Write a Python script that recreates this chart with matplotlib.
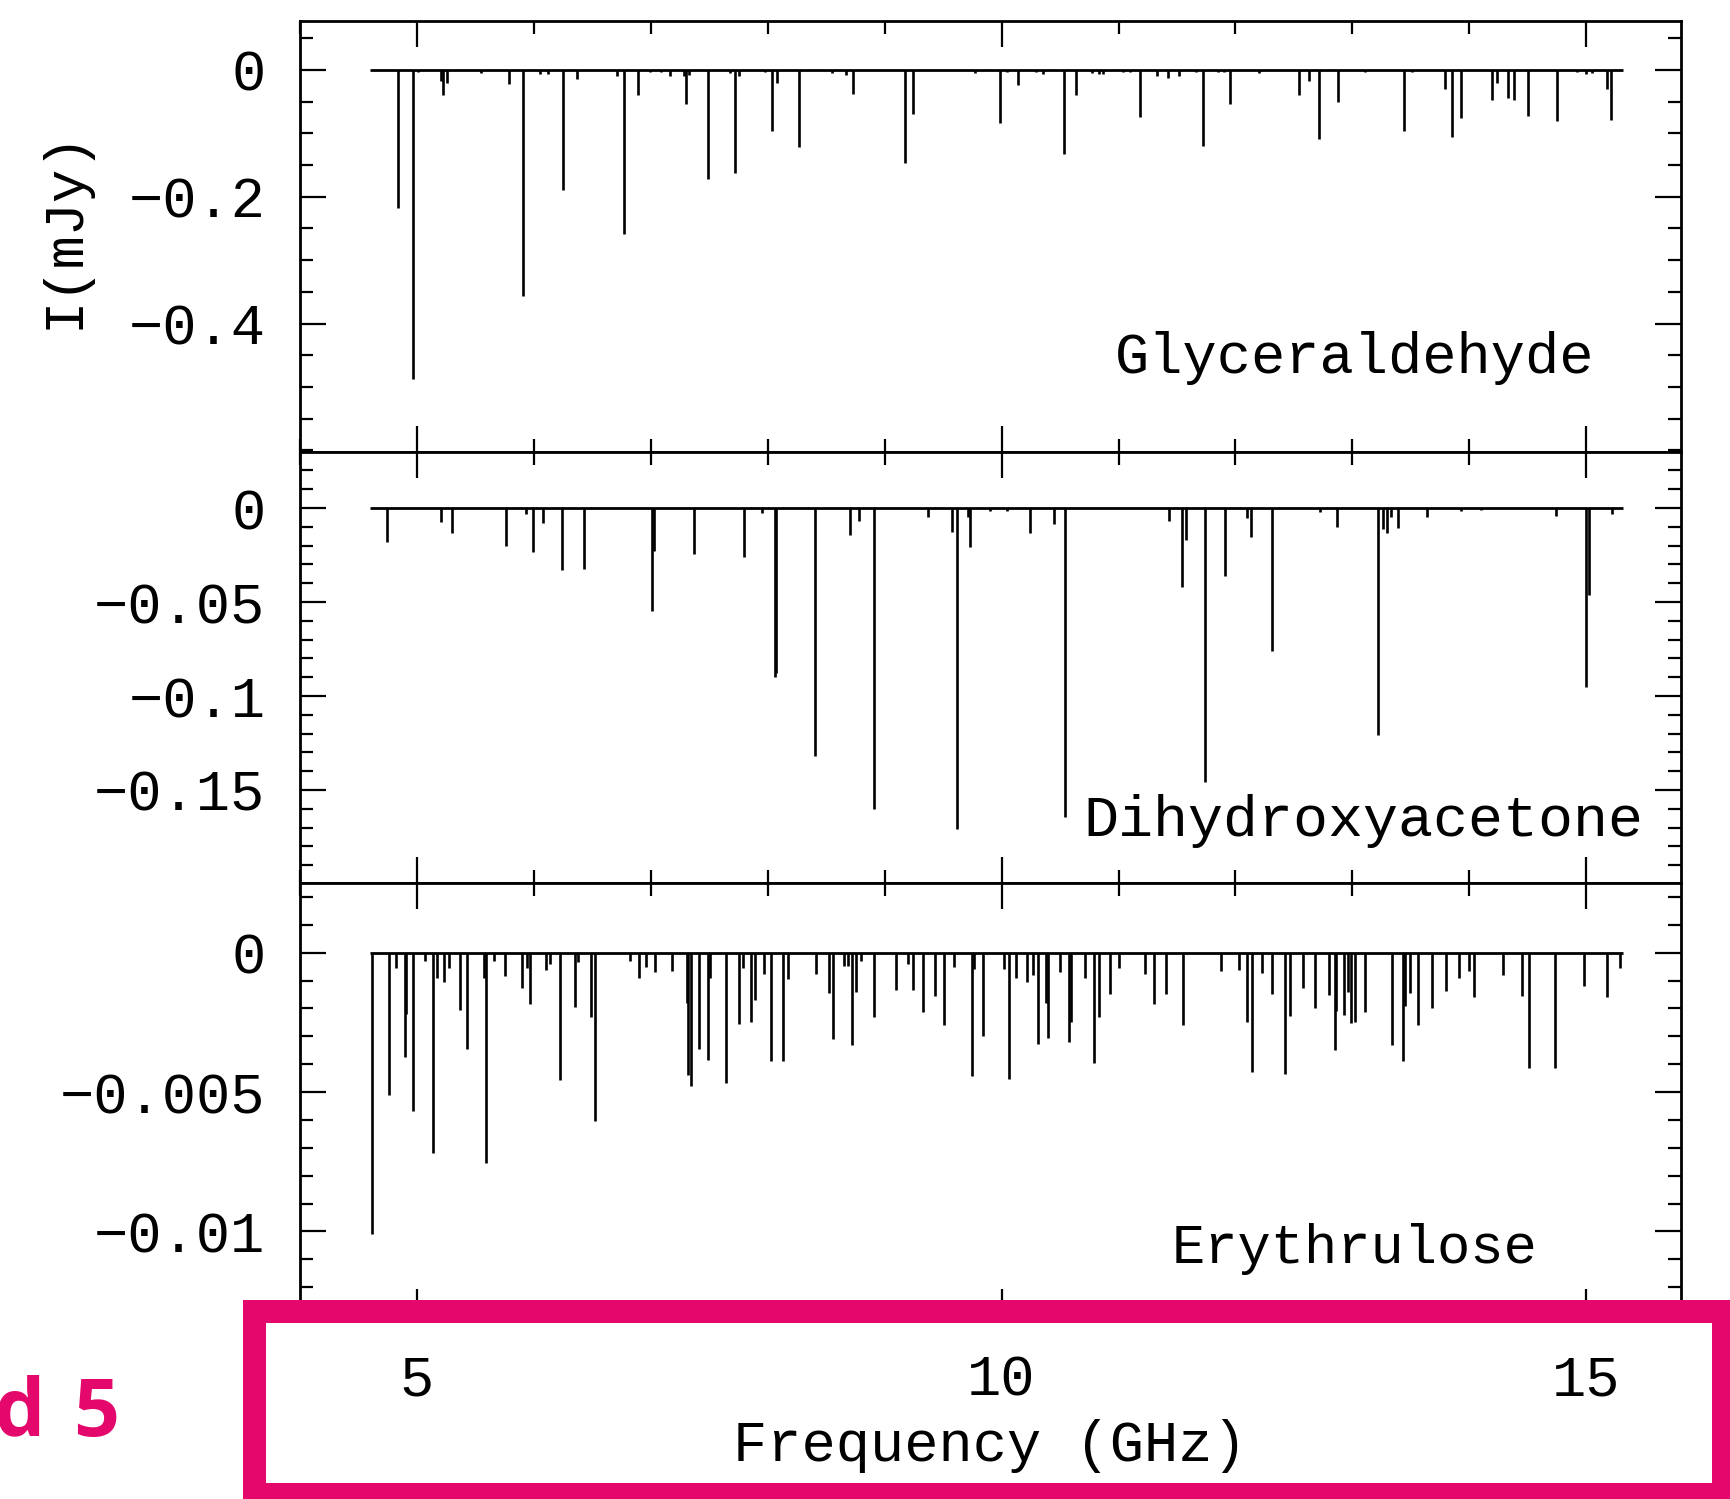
import matplotlib
matplotlib.use("Agg")
import matplotlib.pyplot as plt
from matplotlib.patches import Rectangle
from matplotlib.ticker import MultipleLocator, FixedLocator, FuncFormatter

# ==========================================================
# CONFIG
# ==========================================================

FONTE = ["Liberation Mono", "DejaVu Sans Mono"]
MAGENTA = "#E4086C"

plt.rcParams["font.family"] = FONTE
plt.rcParams["axes.unicode_minus"] = True

# ==========================================================
# DATA - line positions (GHz) and peak intensities (mJy)
# ==========================================================

BAND_EDGES = [4.60, 15.31]

glyc_freq = [
    4.84, 4.97, 5.01, 5.21, 5.22, 5.26, 5.55, 5.79, 5.91, 6.05,
    6.12, 6.25, 6.37, 6.71, 6.77, 6.89, 6.99, 7.09, 7.16, 7.28,
    7.30, 7.33, 7.49, 7.68, 7.72, 7.75, 7.98, 8.04, 8.08, 8.27,
    8.55, 8.67, 8.73, 9.17, 9.24, 9.77, 9.99, 10.05, 10.14, 10.29,
    10.35, 10.53, 10.64, 10.77, 10.83, 10.87, 11.04, 11.10, 11.18, 11.33,
    11.42, 11.52, 11.66, 11.72, 11.85, 11.90, 11.95, 12.20, 12.54, 12.63,
    12.71, 12.88, 13.11, 13.44, 13.51, 13.79, 13.85, 13.93, 14.19, 14.24,
    14.33, 14.38, 14.50, 14.75, 14.92, 15.00, 15.05, 15.18, 15.21,
]
glyc_int = [
    -0.217, -0.488, -0.003, -0.018, -0.039, -0.020, -0.005, -0.022, -0.357, -0.007,
    -0.007, -0.190, -0.014, -0.009, -0.259, -0.039, -0.004, -0.003, -0.009, -0.010,
    -0.054, -0.008, -0.172, -0.005, -0.163, -0.010, -0.003, -0.096, -0.020, -0.122,
    -0.005, -0.008, -0.038, -0.147, -0.069, -0.005, -0.083, -0.004, -0.024, -0.004,
    -0.006, -0.133, -0.039, -0.005, -0.007, -0.006, -0.004, -0.004, -0.074, -0.010,
    -0.013, -0.010, -0.004, -0.120, -0.004, -0.004, -0.054, -0.005, -0.040, -0.017,
    -0.109, -0.050, -0.004, -0.096, -0.004, -0.030, -0.106, -0.076, -0.047, -0.021,
    -0.045, -0.047, -0.072, -0.081, -0.004, -0.006, -0.005, -0.030, -0.079,
]

dhya_freq = [
    4.74, 5.21, 5.30, 5.76, 5.93, 5.99, 6.08, 6.24, 6.43, 7.01,
    7.03, 7.37, 7.80, 7.95, 8.06, 8.07, 8.40, 8.70, 8.78, 8.91,
    9.37, 9.58, 9.62, 9.71, 9.73, 9.90, 10.05, 10.24, 10.45, 10.54,
    11.43, 11.54, 11.58, 11.74, 11.91, 12.10, 12.13, 12.31, 12.72, 12.87,
    13.22, 13.26, 13.30, 13.33, 13.39, 13.64, 13.93, 14.10, 14.74, 15.00,
    15.02, 15.22,
]
dhya_int = [
    -0.0179, -0.0073, -0.0131, -0.0202, -0.0030, -0.0232, -0.0078, -0.0330, -0.0326, -0.0546,
    -0.0230, -0.0245, -0.0262, -0.0025, -0.0900, -0.0880, -0.1320, -0.0144, -0.0071, -0.1600,
    -0.0050, -0.0126, -0.1710, -0.0050, -0.0206, -0.0015, -0.0015, -0.0135, -0.0085, -0.1645,
    -0.0070, -0.0419, -0.0170, -0.1460, -0.0362, -0.0055, -0.0153, -0.0760, -0.0020, -0.0101,
    -0.1210, -0.0110, -0.0135, -0.0050, -0.0105, -0.0050, -0.0015, -0.0012, -0.0040, -0.0954,
    -0.0464, -0.0030,
]

eryt_freq = [
    4.618, 4.763, 4.82, 4.90, 4.91, 4.966, 5.07, 5.14, 5.17, 5.23,
    5.27, 5.37, 5.43, 5.57, 5.59, 5.66, 5.75, 5.90, 5.94, 5.97,
    6.10, 6.14, 6.22, 6.35, 6.38, 6.49, 6.52, 6.82, 6.90, 6.96,
    7.04, 7.18, 7.31, 7.32, 7.34, 7.41, 7.49, 7.51, 7.64, 7.75,
    7.79, 7.86, 7.89, 7.97, 8.03, 8.13, 8.17, 8.41, 8.52, 8.556,
    8.65, 8.69, 8.72, 8.755, 8.80, 8.91, 9.10, 9.20, 9.245, 9.33,
    9.43, 9.51, 9.59, 9.75, 9.76, 9.84, 10.02, 10.064, 10.12, 10.22,
    10.27, 10.31, 10.38, 10.40, 10.50, 10.58, 10.59, 10.71, 10.79, 10.83,
    10.93, 11.00, 11.23, 11.30, 11.41, 11.55, 11.88, 12.03, 12.10, 12.14,
    12.23, 12.31, 12.42, 12.47, 12.58, 12.68, 12.80, 12.85, 12.86, 12.93,
    12.96, 12.99, 13.02, 13.11, 13.34, 13.43, 13.45, 13.49, 13.56, 13.68,
    13.80, 13.91, 14.00, 14.04, 14.29, 14.45, 14.51, 14.73, 14.98, 15.18,
    15.29,
]
eryt_int = [
    -0.0101, -0.0051, -0.00054, -0.00376, -0.0022, -0.00567, -0.0003, -0.0072, -0.0009, -0.00104,
    -0.00056, -0.00205, -0.00345, -0.0009, -0.00755, -0.0003, -0.00084, -0.00128, -0.00056, -0.00185,
    -0.00062, -0.0004, -0.00456, -0.00194, -0.00035, -0.0023, -0.00603, -0.0003, -0.0009, -0.0005,
    -0.00068, -0.00066, -0.0018, -0.0044, -0.0048, -0.00345, -0.00385, -0.0009, -0.00468, -0.00256,
    -0.00056, -0.0025, -0.0017, -0.00078, -0.0039, -0.0039, -0.00094, -0.00076, -0.00146, -0.0031,
    -0.00047, -0.00047, -0.00333, -0.00142, -0.0003, -0.0023, -0.00134, -0.0004, -0.00134, -0.00214,
    -0.00155, -0.0026, -0.0005, -0.00444, -0.0006, -0.0030, -0.00059, -0.00453, -0.0009, -0.00104,
    -0.0008, -0.00327, -0.0018, -0.00305, -0.00068, -0.0032, -0.0025, -0.00092, -0.00397, -0.0023,
    -0.0015, -0.00056, -0.00078, -0.00185, -0.00148, -0.0026, -0.00066, -0.00062, -0.0025, -0.00429,
    -0.00074, -0.0015, -0.00436, -0.00227, -0.00128, -0.00197, -0.00152, -0.00349, -0.0021, -0.00224,
    -0.0014, -0.00253, -0.0025, -0.00214, -0.00333, -0.0039, -0.0019, -0.00146, -0.0026, -0.00197,
    -0.00137, -0.00092, -0.00066, -0.00158, -0.0008, -0.00154, -0.00415, -0.00412, -0.00118, -0.0016,
    -0.00056,
]

# one entry per panel: name, label position (axes fraction), label size, y limits, ticks
painel_nome = ["Glyceraldehyde", "Dihydroxyacetone", "Erythrulose"]
painel_fonte = [41, 42, 40]
painel_ylim = [(-0.602, 0.0776), (-0.1995, 0.030), (-0.013, 0.0025)]
painel_major = [[-0.4, -0.2, 0.0], [-0.15, -0.1, -0.05, 0.0], [-0.01, -0.005, 0.0]]
painel_minor = [0.05, 0.01, 0.001]
painel_label_xy = [(0.590, 0.183), (0.567, 0.109), (0.631, 0.120)]


# ==========================================================
# HELPERS
# ==========================================================

def fmt_tick(v, pos):
    if abs(v) < 1e-12:
        return "0"
    return ("%g" % v).replace("-", "\u2212")


def estilo_eixo(ax, major, minor):
    ax.yaxis.set_major_locator(FixedLocator(major))
    ax.yaxis.set_minor_locator(MultipleLocator(minor))
    ax.yaxis.set_major_formatter(FuncFormatter(fmt_tick))
    ax.xaxis.set_major_locator(MultipleLocator(5))
    ax.xaxis.set_minor_locator(MultipleLocator(1))

    ax.tick_params(which="both", direction="in", top=True, right=True,
                   width=1.6, labelsize=41)
    ax.tick_params(which="major", length=18.5)
    ax.tick_params(which="minor", length=9.5)
    ax.tick_params(axis="y", pad=25)
    ax.tick_params(axis="x", pad=28)

    for sp in ax.spines.values():
        sp.set_linewidth(2.0)


# ==========================================================
# FIGURE
# ==========================================================

def main():

    W, H = 1731, 1499
    fig = plt.figure(figsize=(W / 100, H / 100), dpi=100)

    x0 = 300 / W
    x1 = 1681 / W
    bordas = [20.7, 451.7, 883.0, 1315.0]

    espectros = [
        (glyc_freq, glyc_int),
        (dhya_freq, dhya_int),
        (eryt_freq, eryt_int),
    ]

    eixos = []
    for i in range(3):
        topo = 1 - bordas[i] / H
        base = 1 - bordas[i + 1] / H
        ax = fig.add_axes([x0, base, x1 - x0, topo - base],
                          sharex=eixos[0] if eixos else None)
        freq, inten = espectros[i]

        ax.hlines(0, BAND_EDGES[0], BAND_EDGES[1], color="black", lw=2.0)
        ax.vlines(freq, inten, 0, color="black", lw=1.9)

        ax.set_xlim(4.0, 15.81)
        ax.set_ylim(*painel_ylim[i])
        estilo_eixo(ax, painel_major[i], painel_minor[i])

        lx, ly = painel_label_xy[i]
        ax.text(lx, ly, painel_nome[i], transform=ax.transAxes,
                fontsize=painel_fonte[i], ha="left", va="baseline")

        if i < 2:
            ax.tick_params(axis="x", labelbottom=False)
        eixos.append(ax)

    fig.text(65 / W, 1 - 229 / H, "I(mJy)", rotation=90,
             fontsize=40, ha="center", va="center")
    fig.text(990 / W, 1 - 1461 / H, "Frequency (GHz)",
             fontsize=41, ha="center", va="baseline")

    # highlight box around the frequency axis
    lw_px = 23
    esq, dir_, cima, baixo = 254, 1723.5, 1311, 1493.5
    caixa = Rectangle((esq / W, 1 - baixo / H), (dir_ - esq) / W, (baixo - cima) / H,
                      transform=fig.transFigure, fill=False,
                      edgecolor=MAGENTA, lw=lw_px * 72 / 100, zorder=20,
                      joinstyle="miter", clip_on=False)
    fig.add_artist(caixa)

    # band tag, running off the left edge
    tag = dict(color=MAGENTA, fontsize=58, fontweight="bold",
               family=["Open Sans", "DejaVu Sans"], va="baseline", zorder=20)
    fig.text(119 / W, 1 - 1436 / H, "5", ha="right", **tag)
    fig.text(46 / W, 1 - 1436 / H, "Band", ha="right", **tag)

    fig.savefig("out.png", dpi=100)


if __name__ == "__main__":

    main()
